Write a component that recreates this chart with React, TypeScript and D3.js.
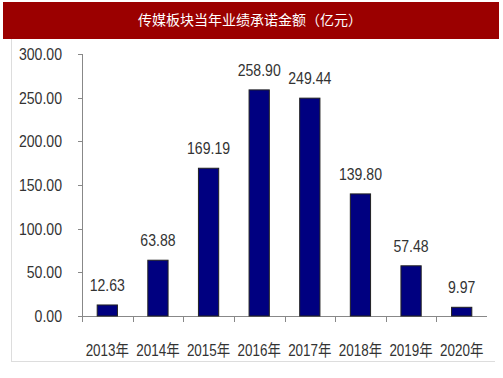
import React from "react";
import * as d3 from "d3";

const categories = ["2013年", "2014年", "2015年", "2016年", "2017年", "2018年", "2019年", "2020年"];
const values = [12.63, 63.88, 169.19, 258.9, 249.44, 139.8, 57.48, 9.97];
const yTicks = [0, 50, 100, 150, 200, 250, 300];
const title = "传媒板块当年业绩承诺金额（亿元）";

const font = "'Liberation Sans', Arial, 'Noto Sans CJK SC', sans-serif";
const fs = 16;
const tc = "#333";

function NText({ x, y, anchor, children, sx = 0.88 }: { x: number; y: number; anchor: string; children: React.ReactNode; sx?: number }) {
  return (
    <text transform={`translate(${x},${y}) scale(${sx},1)`} textAnchor={anchor} fontSize={fs} fontFamily={font} fill={tc}>
      {children}
    </text>
  );
}

export default function App() {
  const W = 503, H = 378;
  const x0 = 82, x1 = 487, yTop = 54, yBot = 316;
  const x = d3.scaleBand<string>().domain(categories).range([x0, x1]).paddingInner(0.6).paddingOuter(0.3);
  const xb = d3.scaleBand<string>().domain(categories).range([x0, x1]).padding(0);
  const y = d3.scaleLinear().domain([0, 300]).range([yBot, yTop]);
  return (
    <svg width={W} height={H} style={{ position: "absolute", left: 0, top: 0, background: "#fff" }}>
      <rect x={3} y={2} width={496} height={37} fill="#9B0000" />
      <text x={250} y={25} textAnchor="middle" fill="#fff" fontSize={14} fontFamily="'Noto Sans CJK SC', sans-serif">{title}</text>
      <line x1={11.5} y1={39} x2={11.5} y2={362} stroke="#ddd" />
      <line x1={11} y1={361.5} x2={495} y2={361.5} stroke="#ddd" />
      {/* y axis */}
      <line x1={x0 + 0.5} y1={yTop} x2={x0 + 0.5} y2={yBot} stroke="#888" />
      {yTicks.map((t) => (
        <g key={t}>
          <line x1={x0 - 4} x2={x0 + 0.5} y1={Math.round(y(t)) + 0.5} y2={Math.round(y(t)) + 0.5} stroke="#888" />
          <NText x={62} y={y(t) + 6} anchor="end">{t.toFixed(2)}</NText>
        </g>
      ))}
      {/* x axis */}
      <line x1={x0} y1={yBot + 0.5} x2={x1} y2={yBot + 0.5} stroke="#888" />
      {categories.map((c) => (
        <line key={c} x1={Math.round(xb(c)!) + 0.5} x2={Math.round(xb(c)!) + 0.5} y1={yBot} y2={yBot + 6} stroke="#888" />
      ))}
      {categories.map((c, i) => (
        <g key={c}>
          <rect x={x(c)} y={y(values[i])} width={x.bandwidth()} height={yBot - y(values[i])} fill="#000080" stroke="#222" strokeWidth={1} />
          <NText x={xb(c)! + xb.bandwidth() / 2} y={y(values[i]) - 14} anchor="middle">{values[i].toFixed(2)}</NText>
          <NText x={xb(c)! + xb.bandwidth() / 2} y={356} anchor="middle" sx={0.84}>{c}</NText>
        </g>
      ))}
    </svg>
  );
}
